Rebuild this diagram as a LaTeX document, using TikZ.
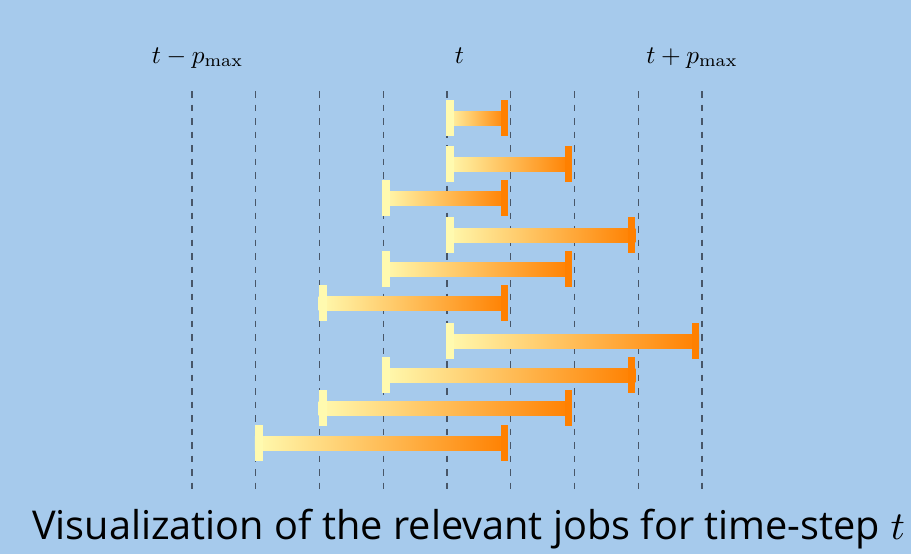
\documentclass[tikz,border=0pt]{standalone}
\usepackage{amsmath}
\usepackage{fontspec}
\setsansfont{Open Sans}

\definecolor{bgblue}{RGB}{166,202,236}
\definecolor{gridgray}{RGB}{72,86,104}
\definecolor{jobstart}{RGB}{255,250,175}
\definecolor{jobend}{RGB}{255,128,0}

\tikzset{
    gridline/.style={draw=gridgray, line width=1.2pt, dash pattern=on 6.5pt off 7pt},
    steplabel/.style={anchor=base, inner sep=0pt, scale=2.53},
    caption/.style={anchor=base, inner sep=0pt, font=\sffamily, scale=3.97}
}

\begin{document}
\begin{tikzpicture}[x=1pt, y=-1pt]
    \fill[bgblue] (0,0) rectangle (911,554);
    \useasboundingbox (0,0) rectangle (911,554);

    % time grid
    \foreach \k in {-4,...,4}
        \draw[gridline] (447+63.75*\k, 91) -- (447+63.75*\k, 489);

    \node[steplabel] (tminus) at (197.5,63) {$t-p_{\max}$};
    \node[steplabel] (tnow) at (459.5,63) {$t$};
    \node[steplabel] (tplus) at (692,63) {$t+p_{\max}$};

    % jobs: start/end/height
    \foreach \s/\e/\y [evaluate=\s as \xa using 447+63.75*\s,
                       evaluate=\e as \xb using 447+63.75*\e] in
        {0/1/118, 0/2/164, -1/1/198, 0/3/235, -1/2/269,
         -2/1/303, 0/4/341, -1/3/375, -2/2/408, -3/1/443} {
        \fill[left color=jobstart, right color=jobend] (\xa-1, \y-7) rectangle (\xb-3, \y+7);
        \fill[jobstart] (\xa-1, \y-18) rectangle (\xa+7, \y+18);
        \fill[jobend] (\xb-10, \y-18) rectangle (\xb-3, \y+18);
    }

    \node[caption] (title) at (468.5,539) {Visualization of the relevant jobs for time-step $t$};
\end{tikzpicture}
\end{document}
